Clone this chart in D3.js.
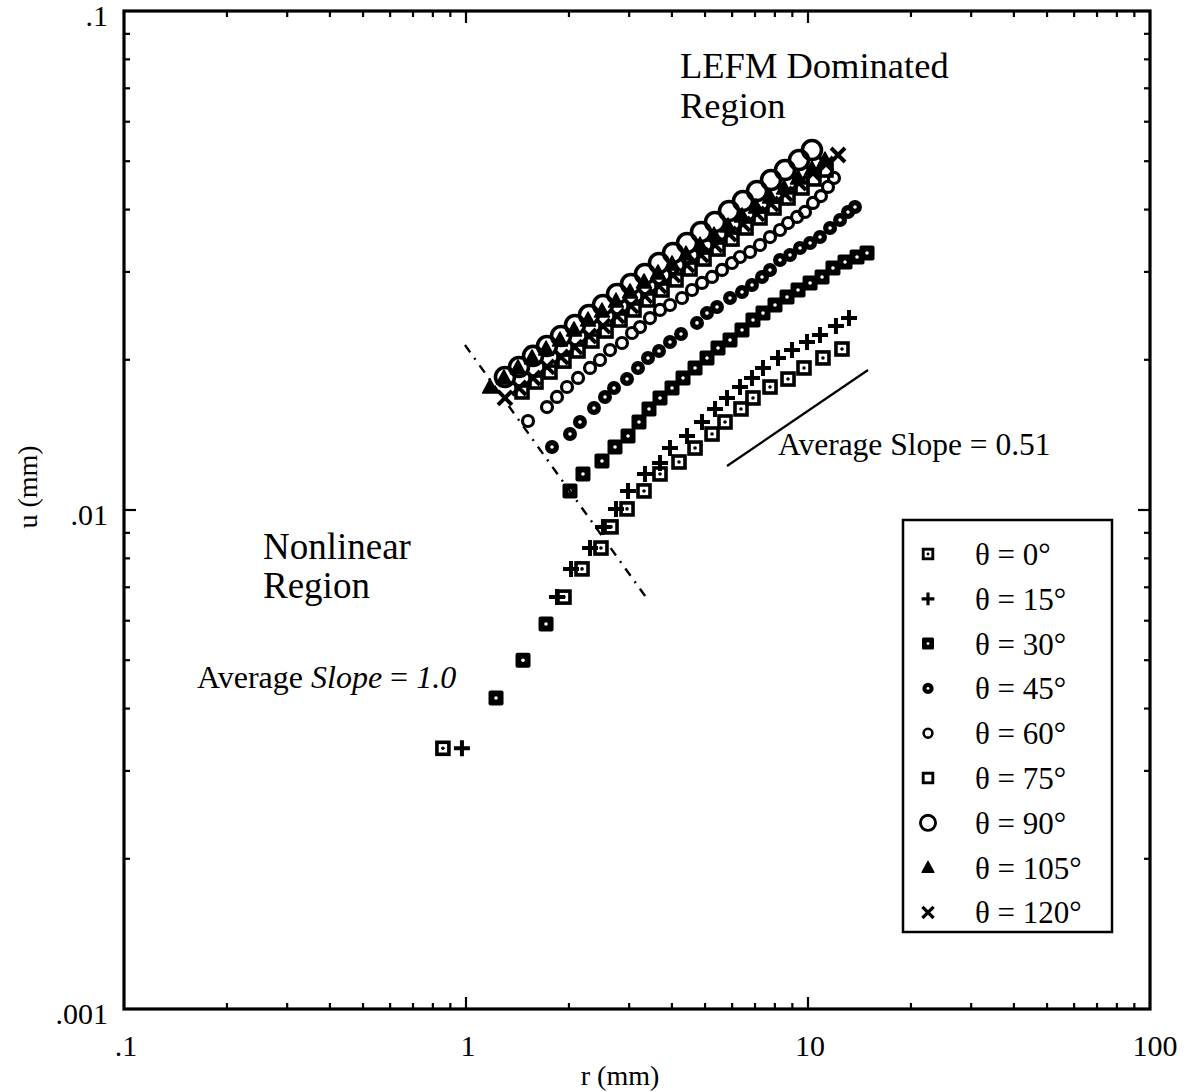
<!DOCTYPE html>
<html lang="en">
<head>
<meta charset="utf-8">
<title>u vs r</title>
<script src="https://cdn.jsdelivr.net/npm/d3@7/dist/d3.min.js"></script>
<style>
  body { margin: 0; background: #fff; }
  svg text { font-family: "Liberation Serif", "Times New Roman", serif; fill: #000; }
</style>
</head>
<body>
<div id="viz"></div>
<script>
// r (mm) and u (mm), one pair of arrays per angle
var r0 = [0.856, 1.934, 2.184, 2.481, 2.655, 2.957, 3.315, 3.692, 4.196, 4.674, 5.241, 5.719, 6.369, 6.904, 7.743, 8.741, 9.734, 11.06, 12.57];
var u0 = [0.00333, 0.00669, 0.00762, 0.00839, 0.00925, 0.01005, 0.01092, 0.01181, 0.01248, 0.01331, 0.01420, 0.01501, 0.01594, 0.01677, 0.01764, 0.01830, 0.01926, 0.02017, 0.02102];

var r15 = [0.973, 1.845, 2.028, 2.305, 2.515, 2.745, 2.977, 3.337, 3.692, 3.949, 4.429, 4.898, 5.347, 5.797, 6.327, 6.858, 7.386, 8.172, 8.980, 9.933, 10.84, 12.07, 13.18];
var u15 = [0.00333, 0.00669, 0.00762, 0.00839, 0.00925, 0.01005, 0.01092, 0.01181, 0.01242, 0.01331, 0.01407, 0.01501, 0.01594, 0.01677, 0.01764, 0.01839, 0.01926, 0.02017, 0.02092, 0.02171, 0.02242, 0.02337, 0.02425];

var r30 = [1.224, 1.468, 1.714, 2.014, 2.198, 2.498, 2.727, 2.977, 3.205, 3.428, 3.692, 4.003, 4.311, 4.674, 5.066, 5.456, 5.915, 6.412, 6.904, 7.386, 8.008, 8.683, 9.350, 10.14, 10.99, 11.83, 12.83, 13.91, 14.88];
var u30 = [0.00420, 0.00500, 0.00591, 0.01092, 0.01181, 0.01254, 0.01337, 0.01407, 0.01501, 0.01594, 0.01677, 0.01756, 0.01839, 0.01926, 0.02017, 0.02112, 0.02191, 0.02295, 0.02403, 0.02481, 0.02575, 0.02673, 0.02760, 0.02851, 0.02931, 0.03055, 0.03141, 0.03214, 0.03273];

var r45 = [1.784, 2.014, 2.154, 2.367, 2.549, 2.709, 2.957, 3.184, 3.405, 3.667, 3.949, 4.253, 4.736, 5.066, 5.419, 5.915, 6.412, 6.858, 7.337, 7.743, 8.283, 8.860, 9.476, 10.14, 10.84, 11.60, 12.41, 13.09, 13.72];
var u45 = [0.01337, 0.01420, 0.01501, 0.01601, 0.01685, 0.01756, 0.01830, 0.01926, 0.02017, 0.02083, 0.02171, 0.02253, 0.02371, 0.02481, 0.02552, 0.02660, 0.02735, 0.02824, 0.02931, 0.03027, 0.03170, 0.03243, 0.03350, 0.03428, 0.03524, 0.03674, 0.03813, 0.03956, 0.04048];

var r60 = [1.518, 1.725, 1.845, 1.974, 2.126, 2.305, 2.465, 2.637, 2.858, 3.058, 3.227, 3.451, 3.692, 3.949, 4.281, 4.579, 4.898, 5.241, 5.604, 5.994, 6.327, 6.768, 7.239, 7.743, 8.283, 8.741, 9.287, 9.799, 10.34, 10.91, 11.44, 11.91];
var u60 = [0.01508, 0.01608, 0.01685, 0.01764, 0.01839, 0.01926, 0.01998, 0.02092, 0.02161, 0.02263, 0.02326, 0.02425, 0.02517, 0.02575, 0.02660, 0.02760, 0.02851, 0.02931, 0.03027, 0.03126, 0.03214, 0.03289, 0.03397, 0.03524, 0.03640, 0.03760, 0.03866, 0.03956, 0.04124, 0.04258, 0.04441, 0.04628];

var r75 = [1.458, 1.602, 1.760, 1.934, 2.126, 2.335, 2.567, 2.820, 3.099, 3.405, 3.742, 4.112, 4.519, 4.966, 5.456, 5.994, 6.588, 7.239, 7.954, 8.741, 9.605, 10.41, 11.29];
var u75 = [0.01724, 0.01805, 0.01890, 0.01988, 0.02083, 0.02181, 0.02284, 0.02403, 0.02517, 0.02636, 0.02760, 0.02891, 0.03041, 0.03184, 0.03334, 0.03491, 0.03674, 0.03848, 0.04029, 0.04219, 0.04419, 0.04607, 0.04801];

var r90 = [1.300, 1.429, 1.570, 1.725, 1.896, 2.083, 2.289, 2.515, 2.764, 3.037, 3.337, 3.667, 4.030, 4.429, 4.866, 5.347, 5.875, 6.456, 7.094, 7.796, 8.567, 9.412, 10.27];
var u90 = [0.01847, 0.01935, 0.02036, 0.02131, 0.02232, 0.02348, 0.02459, 0.02575, 0.02710, 0.02838, 0.02972, 0.03126, 0.03273, 0.03428, 0.03607, 0.03778, 0.03974, 0.04161, 0.04358, 0.04585, 0.04801, 0.05028, 0.05265];

var r105 = [1.176, 1.291, 1.419, 1.560, 1.714, 1.883, 2.069, 2.274, 2.498, 2.745, 3.017, 3.315, 3.643, 4.003, 4.398, 4.833, 5.311, 5.836, 6.412, 7.047, 7.743, 8.510, 9.350, 10.27, 11.21];
var u105 = [0.01764, 0.01839, 0.01926, 0.02017, 0.02102, 0.02191, 0.02295, 0.02403, 0.02505, 0.02623, 0.02735, 0.02864, 0.02986, 0.03112, 0.03258, 0.03397, 0.03557, 0.03708, 0.03884, 0.04048, 0.04239, 0.04419, 0.04628, 0.04824, 0.05028];

var r120 = [1.300, 1.429, 1.570, 1.725, 1.896, 2.083, 2.289, 2.515, 2.764, 3.037, 3.337, 3.667, 4.030, 4.429, 4.866, 5.347, 5.875, 6.456, 7.094, 7.796, 8.567, 9.412, 10.34, 11.29, 12.24];
var u120 = [0.01677, 0.01756, 0.01839, 0.01935, 0.02026, 0.02121, 0.02232, 0.02337, 0.02448, 0.02563, 0.02685, 0.02811, 0.02957, 0.03097, 0.03243, 0.03397, 0.03573, 0.03743, 0.03920, 0.04104, 0.04298, 0.04522, 0.04735, 0.04936, 0.05145];

var angles = [0, 15, 30, 45, 60, 75, 90, 105, 120];
var symbols = ["sqdot", "plus", "sqfill", "dotfill", "circ", "sq", "bigcirc", "tri", "cross"];
var rData = [r0, r15, r30, r45, r60, r75, r90, r105, r120];
var uData = [u0, u15, u30, u45, u60, u75, u90, u105, u120];

// guide lines
var slopeLEFM = { r: [5.797, 14.98], u: [0.01225, 0.01908] };
var splitLine = { r: [0.993, 3.405], u: [0.02141, 0.00660] };

var xTickLabels = [[0.1, ".1"], [1, "1"], [10, "10"], [100, "100"]];
var yTickLabels = [[0.1, ".1"], [0.01, ".01"], [0.001, ".001"]];

var W = 1186, H = 1092;

var x = d3.scaleLog().domain([0.1, 100]).range([124, 1150]);
var y = d3.scaleLog().domain([0.001, 0.1]).range([1009, 11]);

var svg = d3.select("#viz").append("svg")
  .attr("width", W)
  .attr("height", H);

// markers
function drawSymbol(g, type) {
  if (type == "sqdot") {
    g.append("rect").attr("x", -6).attr("y", -6).attr("width", 12).attr("height", 12)
      .attr("fill", "none").attr("stroke", "#000").attr("stroke-width", 3.6);
    g.append("circle").attr("r", 1.8).attr("fill", "#000");
  } else if (type == "plus") {
    g.append("path").attr("d", "M-8,0H8M0,-8V8")
      .attr("stroke", "#000").attr("stroke-width", 4);
  } else if (type == "sqfill") {
    g.append("rect").attr("x", -7.5).attr("y", -7.5).attr("width", 15).attr("height", 15)
      .attr("rx", 2).attr("fill", "#000");
    g.append("circle").attr("r", 1.8).attr("fill", "#fff");
  } else if (type == "dotfill") {
    g.append("circle").attr("r", 7).attr("fill", "#000");
    g.append("circle").attr("r", 1.8).attr("fill", "#fff");
  } else if (type == "circ") {
    g.append("circle").attr("r", 5.5).attr("fill", "none")
      .attr("stroke", "#000").attr("stroke-width", 3.2);
  } else if (type == "sq") {
    g.append("rect").attr("x", -6).attr("y", -6).attr("width", 12).attr("height", 12)
      .attr("fill", "none").attr("stroke", "#000").attr("stroke-width", 3.6);
  } else if (type == "bigcirc") {
    g.append("circle").attr("r", 9.5).attr("fill", "none")
      .attr("stroke", "#000").attr("stroke-width", 3.6);
  } else if (type == "tri") {
    g.append("path").attr("d", "M0,-8L7.5,6L-7.5,6Z").attr("fill", "#000")
      .attr("stroke", "#000").attr("stroke-width", 1.5).attr("stroke-linejoin", "round");
  } else if (type == "cross") {
    g.append("path").attr("d", "M-7,-7L7,7M-7,7L7,-7")
      .attr("stroke", "#000").attr("stroke-width", 4);
  }
}

var plot = svg.append("g");

angles.forEach(function(a, i) {
  var pts = rData[i].map(function(r, j) { return [r, uData[i][j]]; });
  plot.selectAll(null)
    .data(pts)
    .enter()
    .append("g")
    .attr("transform", function(d) { return "translate(" + x(d[0]) + "," + y(d[1]) + ")"; })
    .each(function() { drawSymbol(d3.select(this), symbols[i]); });
});

// guide lines
svg.append("line")
  .attr("x1", x(slopeLEFM.r[0])).attr("y1", y(slopeLEFM.u[0]))
  .attr("x2", x(slopeLEFM.r[1])).attr("y2", y(slopeLEFM.u[1]))
  .attr("stroke", "#000").attr("stroke-width", 2.2);

svg.append("line")
  .attr("x1", x(splitLine.r[0])).attr("y1", y(splitLine.u[0]))
  .attr("x2", x(splitLine.r[1])).attr("y2", y(splitLine.u[1]))
  .attr("stroke", "#000").attr("stroke-width", 2.4)
  .attr("stroke-dasharray", "9,7,2,7");

// frame
var x0 = x(0.1), x1 = x(100), y0 = y(0.001), y1 = y(0.1);
svg.append("rect")
  .attr("x", x0).attr("y", y1)
  .attr("width", x1 - x0).attr("height", y0 - y1)
  .attr("fill", "none").attr("stroke", "#000").attr("stroke-width", 3.2);

// ticks on all four sides, pointing in
function isDecade(v) { return Math.abs(Math.log10(v) - Math.round(Math.log10(v))) < 1e-6; }

x.ticks().forEach(function(v) {
  if (v <= 0.1 || v >= 100) return;
  var len = isDecade(v) ? 12 : 6;
  svg.append("line").attr("x1", x(v)).attr("x2", x(v)).attr("y1", y0).attr("y2", y0 - len)
    .attr("stroke", "#000").attr("stroke-width", 2.2);
  svg.append("line").attr("x1", x(v)).attr("x2", x(v)).attr("y1", y1).attr("y2", y1 + len)
    .attr("stroke", "#000").attr("stroke-width", 2.2);
});

y.ticks().forEach(function(v) {
  if (v <= 0.001 || v >= 0.1) return;
  var len = isDecade(v) ? 12 : 6;
  svg.append("line").attr("y1", y(v)).attr("y2", y(v)).attr("x1", x0).attr("x2", x0 + len)
    .attr("stroke", "#000").attr("stroke-width", 2.2);
  svg.append("line").attr("y1", y(v)).attr("y2", y(v)).attr("x1", x1).attr("x2", x1 - len)
    .attr("stroke", "#000").attr("stroke-width", 2.2);
});

// tick labels
xTickLabels.forEach(function(t) {
  svg.append("text")
    .attr("x", x(t[0]) + (t[0] == 100 ? 5 : 2))
    .attr("y", 1056)
    .attr("text-anchor", "middle")
    .attr("font-size", 30)
    .text(t[1]);
});

yTickLabels.forEach(function(t) {
  svg.append("text")
    .attr("x", 108)
    .attr("y", y(t[0]) + 15)
    .attr("text-anchor", "end")
    .attr("font-size", 30)
    .text(t[1]);
});

// axis titles
svg.append("text")
  .attr("x", 620).attr("y", 1085)
  .attr("text-anchor", "middle")
  .attr("font-size", 28)
  .text("r  (mm)");

svg.append("text")
  .attr("transform", "translate(37,487) rotate(-90)")
  .attr("text-anchor", "middle")
  .attr("font-size", 28)
  .text("u  (mm)");

// annotations
svg.append("text").attr("x", 680).attr("y", 78).attr("font-size", 36.5).text("LEFM Dominated");
svg.append("text").attr("x", 680).attr("y", 118).attr("font-size", 36.5).text("Region");

svg.append("text").attr("x", 263).attr("y", 559).attr("font-size", 37).text("Nonlinear");
svg.append("text").attr("x", 263).attr("y", 598).attr("font-size", 37).text("Region");

var s1 = svg.append("text").attr("x", 197).attr("y", 688).attr("font-size", 32);
s1.append("tspan").text("Average ");
s1.append("tspan").attr("font-style", "italic").text("Slope");
s1.append("tspan").text(" = ");
s1.append("tspan").attr("font-style", "italic").text("1.0");

svg.append("text").attr("x", 778).attr("y", 455).attr("font-size", 31.5).text("Average Slope = 0.51");

// legend
var legend = svg.append("g");
legend.append("rect")
  .attr("x", 903).attr("y", 520)
  .attr("width", 209).attr("height", 412)
  .attr("fill", "#fff").attr("stroke", "#000").attr("stroke-width", 2.5);

angles.forEach(function(a, i) {
  var ly = 554 + i * 44.8;
  var g = legend.append("g").attr("transform", "translate(928," + ly + ") scale(0.8)");
  drawSymbol(g, symbols[i]);
  legend.append("text")
    .attr("x", 975).attr("y", ly + 11)
    .attr("font-size", 31)
    .text("\u03b8 = " + a + "\u00b0");
});
</script>
</body>
</html>
